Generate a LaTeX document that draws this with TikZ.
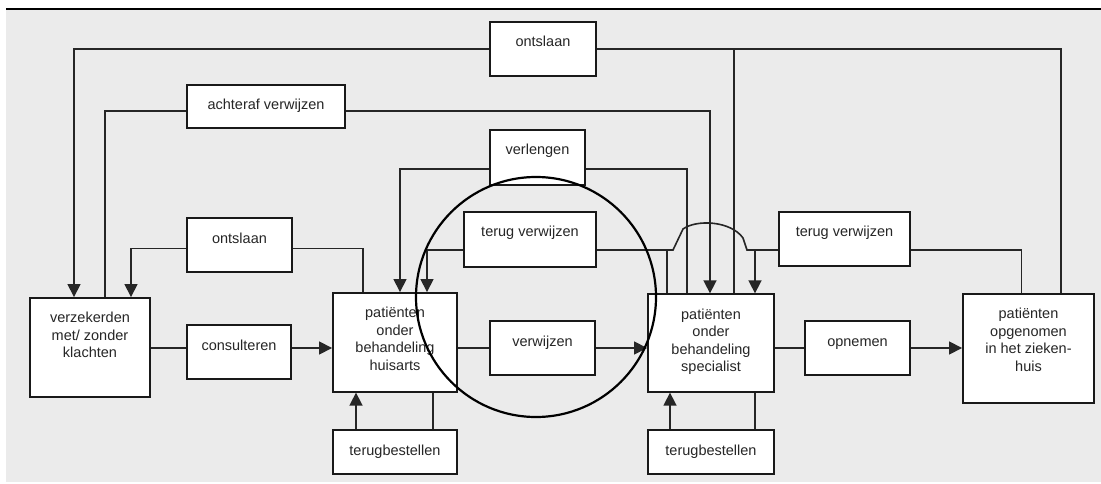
\documentclass[tikz,border=0pt]{standalone}
\usepackage{fontspec}
\setmainfont{Liberation Sans}
\usetikzlibrary{arrows.meta, positioning}

\begin{document}
\begin{tikzpicture}[
  x = 1pt, y = -1pt,
  every node/.style = {font=\fontsize{14.5}{17.5}\selectfont, text=black!85},
  box/.style   = {rectangle, draw=black!90, line width=1.9pt, fill=white,
                  align=center, inner sep=0pt},
  act/.style   = {box, text height=25pt, text depth=#1},
  act/.default = 29pt,
  state/.style = {box, execute at end node={\rule[-#1]{0pt}{0pt}}},
  link/.style  = {draw=black!85, line width=1.6pt},
  arrow/.style = {link, -{Triangle[length=13pt, width=13pt]}}
]

% --- achtergrond ---
\useasboundingbox (0,0) rectangle (1101,484);
\fill[black!8] (6,10) rectangle (1101,482);
\draw[line width=2pt] (6,9) -- (1101,9);

% --- hoofdrij (van links naar rechts) ---
\node[state=24.6pt, minimum width=120pt, minimum height=98.7pt]
      (verz) at (90,347.35) {verzekerden\\met/ zonder\\klachten};
\node[act, minimum width=104pt] (consult) at (239,352) {consulteren};
\node[state=7.1pt, minimum width=124pt, minimum height=98.7pt]
      (huisarts) at (395,342.35) {patiënten\\onder\\behandeling\\huisarts};
\node[act, minimum width=105pt] (verwijs) at (542.5,348) {verwijzen};
\node[state=5.8pt, minimum width=126pt, minimum height=97.4pt]
      (spec) at (711,343) {patiënten\\onder\\behandeling\\specialist};
\node[act, minimum width=105pt] (opname) at (857.5,348) {opnemen};
\node[state=17.1pt, minimum width=131pt, minimum height=108.7pt]
      (zkhuis) at (1028.5,348.35) {patiënten\\opgenomen\\in het zieken-\\huis};

% --- terugbestellen (onder de behandelaars) ---
\node[act=19pt, minimum width=124pt, below=36.5pt of huisarts] (tbhuis) {terugbestellen};
\node[act=19pt, minimum width=126pt, below=36.5pt of spec]     (tbspec) {terugbestellen};

% --- terugkoppelingen (boven) ---
\node[act=29.3pt, minimum width=106pt] (ontslTop)  at (543,48.85)   {ontslaan};
\node[act=18.3pt, minimum width=158pt] (achteraf)  at (266,106.65)  {achteraf verwijzen};
\node[act=30pt,   minimum width=95pt]  (verleng)   at (537.5,157.5) {verlengen};
\node[act,        minimum width=105pt] (ontslHuis) at (239.5,245.3) {ontslaan};
\node[act=30pt,   minimum width=132pt] (terugL)    at (530,239.2)   {terug verwijzen};
\node[act=29.3pt, minimum width=131pt] (terugR)    at (844.5,238.85) {terug verwijzen};

% hoogtes van de lijnen
\coordinate (yAch)  at (0,111);
\coordinate (yVer)  at (0,169);
\coordinate (yOntH) at (0,248.3);
\coordinate (yTer)  at (0,250);
\coordinate (yMain) at (0,348);
\coordinate (s1) at ([xshift=23pt]spec.north);
\coordinate (s2) at ([xshift=-44pt]spec.north);
\coordinate (s3) at ([xshift=44pt]spec.north);
\coordinate (hopR) at (747,250);

% --- Arrows: hoofdrij ---
\draw[link]  (verz.east |- yMain)     -- (consult.west |- yMain);
\draw[arrow] (consult.east |- yMain)  -- (huisarts.west |- yMain);
\draw[link]  (huisarts.east |- yMain) -- (verwijs.west);
\draw[arrow] (verwijs.east)           -- (spec.west |- yMain);
\draw[link]  (spec.east |- yMain)     -- (opname.west);
\draw[arrow] (opname.east)            -- (zkhuis.west |- yMain);

% ontslaan (ziekenhuis / specialist -> verzekerden)
\draw[link]  ([xshift=32.5pt]zkhuis.north) |- (ontslTop.east);
\draw[arrow] (ontslTop.west) -| ([xshift=-16pt]verz.north);
\draw[link]  (s1) -- (s1 |- ontslTop.east);

% achteraf verwijzen
\draw[link]  ([xshift=15pt]verz.north) |- (achteraf.west |- yAch);
\draw[arrow] (achteraf.east |- yAch) -| ([xshift=-1pt]spec.north);

% verlengen
\draw[link]  ([xshift=-24pt]spec.north) |- (verleng.east |- yVer);
\draw[arrow] (verleng.west |- yVer) -| ([xshift=5pt]huisarts.north);

% ontslaan (huisarts -> verzekerden)
\draw[link]  ([xshift=-32pt]huisarts.north) |- (ontslHuis.east |- yOntH);
\draw[arrow] (ontslHuis.west |- yOntH) -| ([xshift=41pt]verz.north);

% terug verwijzen
\draw[link]  (s2) |- (terugL.east |- yTer);
\draw[arrow] (terugL.west |- yTer) -| ([xshift=32pt]huisarts.north);
\draw[link]  ([xshift=-7pt]zkhuis.north) |- (terugR.east |- yTer);
\draw[link]  (terugR.west |- yTer) -- (hopR) -- (743,238)
             .. controls (731,221) and (697,219) .. (683,229) -- (673,250) -- (s2 |- yTer);
\draw[arrow] (s3 |- yTer) -- (s3);

% terugbestellen
\draw[arrow] ([xshift=-39pt]tbhuis.north) -- ([xshift=-39pt]huisarts.south);
\draw[link]  ([xshift=38pt]huisarts.south) -- ([xshift=38pt]tbhuis.north);
\draw[arrow] ([xshift=-41pt]tbspec.north) -- ([xshift=-41pt]spec.south);
\draw[link]  ([xshift=44pt]spec.south) -- ([xshift=44pt]tbspec.north);

% --- cirkel rond de verwijzing ---
\node[circle, draw=black, line width=2.2pt, minimum size=240pt, inner sep=0pt]
      (focus) at (536,297) {};

\end{tikzpicture}
\end{document}
